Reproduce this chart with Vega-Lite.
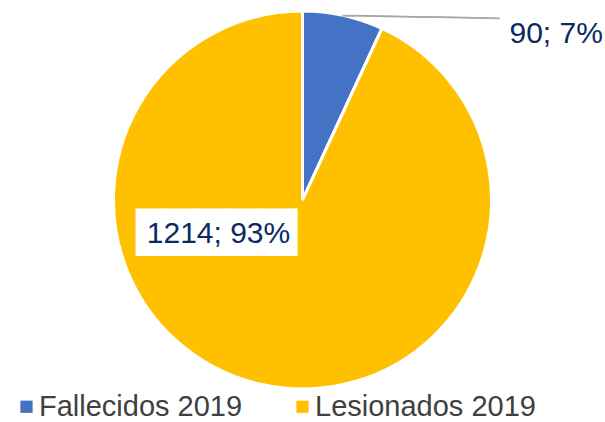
{
  "$schema": "https://vega.github.io/schema/vega-lite/v6.json",
  "width": 605,
  "height": 400,
  "autosize": "none",
  "padding": {"left": 0, "top": 0, "right": 0, "bottom": 22},
  "background": "white",
  "data": {"values": [
    {"cat": "Fallecidos 2019", "value": 90, "label": "90; 7%"},
    {"cat": "Lesionados 2019", "value": 1214, "label": "1214; 93%"}
  ]},
  "encoding": {"theta": {"field": "value", "type": "quantitative", "stack": true}},
  "layer": [
    {
      "mark": {"type": "arc", "outerRadius": 189, "stroke": "white", "strokeWidth": 3},
      "encoding": {
        "color": {
          "field": "cat", "type": "nominal",
          "scale": {"domain": ["Fallecidos 2019", "Lesionados 2019"], "range": ["#4472C4", "#FFC000"]},
          "legend": {
            "orient": "none", "legendX": 12, "legendY": 392, "direction": "horizontal", "columns": 2,
            "title": null, "symbolType": "square", "symbolSize": 150, "symbolStrokeWidth": 0,
            "labelFont": "Liberation Sans", "labelFontSize": 29, "labelColor": "#404040",
            "labelOffset": -2, "columnPadding": 45, "padding": 0, "labelLimit": 400
          }
        }
      }
    },
    {
      "mark": {"type": "text", "font": "DejaVu Sans", "fontSize": 20, "align": "left", "baseline": "middle", "angle": 1, "color": "#A6A6A6"},
      "encoding": {
        "detail": {"field": "cat"},
        "radius": {"value": 188},
        "text": {"condition": {"test": "datum.cat === 'Fallecidos 2019'", "value": "─────────────"}, "value": ""}
      }
    },
    {
      "mark": {"type": "text", "font": "Liberation Sans", "fontSize": 30, "align": "left", "baseline": "alphabetic", "dx": 207, "dy": -157, "color": "#0B2A63"},
      "encoding": {
        "detail": {"field": "cat"},
        "radius": {"value": 0},
        "text": {"condition": {"test": "datum.cat === 'Fallecidos 2019'", "field": "label"}, "value": ""}
      }
    },
    {
      "mark": {"type": "text", "font": "DejaVu Sans", "fontSize": 40, "align": "center", "baseline": "middle", "dx": -74, "dy": 34, "color": "white"},
      "encoding": {
        "detail": {"field": "cat"},
        "radius": {"value": 0},
        "text": {"condition": {"test": "datum.cat === 'Lesionados 2019'", "value": "█████▎"}, "value": ""}
      }
    },
    {
      "mark": {"type": "text", "font": "Liberation Sans", "fontSize": 30, "align": "center", "baseline": "alphabetic", "dx": -84, "dy": 43, "color": "#0B2A63"},
      "encoding": {
        "detail": {"field": "cat"},
        "radius": {"value": 0},
        "text": {"condition": {"test": "datum.cat === 'Lesionados 2019'", "field": "label"}, "value": ""}
      }
    }
  ],
  "config": {"view": {"stroke": null}}
}
